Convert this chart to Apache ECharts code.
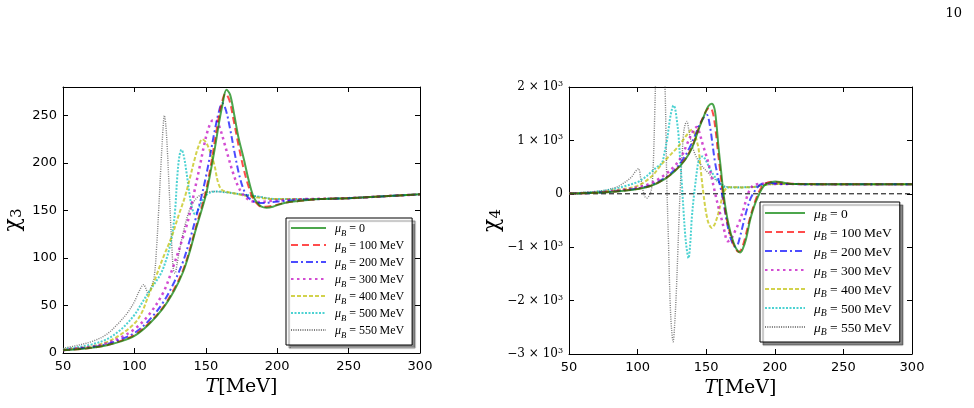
<!DOCTYPE html>
<html>
<head>
<meta charset="utf-8">
<script src="https://cdn.jsdelivr.net/npm/echarts@6/dist/echarts.min.js"></script>
<style>
html, body { margin: 0; padding: 0; background: #fff; }
#chart { width: 974px; height: 408px; }
</style>
</head>
<body>
<div id="chart"></div>
<script>
// legend labels (mu_B values)
var muLabels = ['0', '100\u2009MeV', '200\u2009MeV', '300\u2009MeV', '400\u2009MeV', '500\u2009MeV', '550\u2009MeV'];
var xTicks = [50, 100, 150, 200, 250, 300];

// chi_3 curves, [T (MeV), value]
var chi3_0 = [[50,3],[60,4],[70,5.5],[80,8],[90,12],[100,18],[110,30],[120,47],[128,66],[134,85],[139,108],[143,130],[147,150],[150,166],[153,188],[156.5,217],[159,240],[161.5,260],[164.5,277],[167,272],[170,250],[173,226],[176.5,205],[180,182],[183,166],[186,158],[189,154],[192.5,153],[197,154],[205,158],[215,160],[230,162],[250,163],[275,165],[300,167]];
var chi3_100 = [[50,3],[60,4],[70,5.5],[80,8],[90,12.5],[100,19],[110,31],[120,48],[128,68],[134,87],[139,110],[143,132],[147,153],[150,170],[153,193],[156,220],[158.5,243],[161,262],[163.7,273],[166.5,266],[169.5,245],[173,218],[176.5,194],[180,175],[183,163],[186,157],[189,154],[192,154],[197,155],[205,158],[215,160],[230,162],[250,163],[275,165],[300,167]];
var chi3_200 = [[50,3],[60,4.5],[70,6],[80,9],[90,14],[100,21],[110,34],[120,53],[128,75],[134,96],[139,120],[143,142],[147,165],[150,185],[153,208],[156,232],[159,253],[161.5,263],[164,256],[167,236],[170,212],[173,190],[176,174],[179,165],[183,160],[187,158],[191,158],[197,159],[205,160],[215,161],[230,162],[250,163],[275,165],[300,167]];
var chi3_300 = [[50,3],[60,5],[70,6.5],[80,10],[90,16],[100,25],[110,40],[120,63],[127,90],[133,117],[138,142],[142,170],[146,198],[149,220],[152,237],[155,245],[157,245],[160,236],[163,221],[166,205],[169,190],[172.8,175],[177,165],[182,160],[188,159],[195,160],[205,161],[220,162],[250,163],[275,165],[300,167]];
var chi3_400 = [[50,3.5],[60,5],[70,7],[80,11],[90,19],[100,31],[105,42],[109,57],[114.5,78],[120,100],[126,122],[131,145],[135.5,165],[139,185],[142,203],[145,218],[147.5,225],[150,222],[153,212],[156,198],[158.5,180],[161,172],[164,170],[170,168],[180,165],[190,163],[200,162],[220,162],[250,163],[275,165],[300,167]];
var chi3_500 = [[50,4],[60,6],[70,9],[80,14],[90,24],[100,40],[105,52],[110,64],[115,75],[119,85],[122,97],[124.5,110],[126.5,125],[128.5,150],[130,185],[131.5,207],[133,214],[134.5,208],[136.5,190],[138.5,168],[140.5,152],[142.5,146],[145,152],[148,162],[152,168],[157,170],[165,169],[175,167],[185,165],[200,162],[220,162],[250,163],[275,165],[300,167]];
var chi3_550 = [[50,5],[60,8],[70,12],[80,19],[88,30],[95,42],[100,54],[103,64],[106.5,72],[108,68],[109.5,63],[112,70],[114,82],[115.5,110],[117,150],[118.5,195],[120,235],[121,250],[122,240],[123.2,210],[124.3,175],[125.3,140],[126.3,110],[127.3,88],[128.5,84],[130,95],[132.5,115],[135,132],[138,148],[141,158],[145,165],[150,169],[155,170],[165,169],[175,167],[185,165],[200,162],[220,162],[250,163],[275,165],[300,167]];

// chi_4 curves, [T (MeV), value]
var chi4_0 = [[50,5],[60,10],[70,20],[80,35],[90,58],[100,90],[110,150],[120,280],[127,420],[134.7,637],[140,880],[144.4,1200],[149.2,1510],[151.5,1640],[154,1688],[156,1600],[157.5,1300],[158.9,890],[160.8,440],[162.5,30],[164.3,-300],[166.2,-560],[168.5,-800],[171.1,-990],[173,-1070],[174.7,-1100],[176.5,-1040],[179,-850],[182,-490],[185,-230],[188,-40],[190.5,90],[193,170],[197,215],[200.5,230],[205,215],[211,190],[220,182],[250,180],[300,180]];
var chi4_100 = [[50,5],[60,10],[70,20],[80,36],[90,60],[100,92],[110,155],[120,285],[127,430],[134.7,650],[140,900],[144.4,1220],[148.5,1480],[151,1590],[153,1610],[155,1500],[156.8,1200],[158.5,800],[160.3,400],[162,30],[164,-330],[166,-600],[168.5,-840],[171,-1010],[173.5,-1085],[175.5,-1040],[178,-860],[181,-540],[184,-270],[187,-50],[190,110],[193,190],[198,225],[204,210],[212,188],[220,182],[250,180],[300,180]];
var chi4_200 = [[50,5],[60,11],[70,22],[80,40],[90,65],[100,100],[110,165],[120,300],[127,450],[133,640],[138,870],[142,1100],[146,1340],[150.4,1480],[152.5,1300],[154.5,950],[156.5,580],[159,270],[161.4,10],[163.5,-300],[166.2,-675],[168.5,-880],[171,-990],[172.8,-960],[174.7,-800],[177,-560],[179.6,-300],[182,-110],[184.4,10],[187,110],[189.3,170],[193,200],[198,200],[205,185],[220,181],[250,180],[300,180]];
var chi4_300 = [[50,6],[60,13],[70,25],[80,45],[90,75],[100,120],[110,200],[120,360],[127,520],[132,700],[136,930],[139,1100],[141.5,1220],[143.2,1250],[145,1150],[147.5,920],[149.5,760],[151.6,575],[154,300],[156.5,12],[159,-260],[161.4,-490],[163.5,-720],[165.5,-890],[168,-850],[171,-700],[174.5,-500],[177.5,-260],[180.5,0],[183.5,140],[187,180],[192,190],[200,185],[220,181],[250,180],[300,180]];
var chi4_400 = [[50,8],[60,16],[70,30],[80,55],[90,90],[100,150],[110,320],[116.5,520],[122,680],[128.6,856],[133,1000],[136,1106],[139.5,1200],[141.5,1130],[143,1000],[144.4,850],[145.6,560],[146.8,262],[148,0],[149.2,-238],[150.5,-430],[152,-570],[154.1,-640],[156,-580],[157.5,-480],[158.9,-362],[160.7,-170],[162.5,12],[164.5,100],[166.5,125],[175,120],[183,125],[188,140],[193,170],[200,182],[220,181],[250,180],[300,180]];
var chi4_500 = [[50,10],[60,20],[70,40],[80,75],[89.8,137],[100,220],[105,300],[110.4,419],[114,500],[117.7,575],[119.5,760],[121.3,981],[122.5,1200],[123.7,1419],[125,1580],[126.2,1655],[127.3,1600],[128.5,1400],[129.8,1106],[131,650],[132.3,169],[133.5,-330],[134.7,-769],[135.9,-1050],[137.1,-1206],[138.3,-950],[139.5,-456],[140.8,-100],[142,169],[143.2,420],[144.4,606],[146,690],[147.4,700],[149,660],[151,560],[153,450],[155.3,356],[158,260],[160,200],[162.5,137],[166,120],[175,120],[183,125],[188,140],[193,170],[200,182],[220,181],[250,180],[300,180]];
var chi4_550 = [[50,12],[60,25],[70,45],[77.7,75],[85,130],[89.8,200],[95,300],[98.5,420],[100.7,470],[102.2,300],[104,60],[105.5,-60],[106.8,-80],[108.3,-40],[109.5,30],[110.5,150],[111.5,600],[112.5,1500],[113.5,2500],[115,3400],[116.5,3700],[118,3400],[119,2700],[120,2000],[120.7,1100],[121.3,200],[122.5,-900],[123.7,-2019],[124.8,-2550],[125.9,-2770],[127,-2450],[128.2,-1850],[129.3,-1100],[130.3,-400],[131.2,169],[132.3,650],[133.4,1106],[134.7,1300],[135.9,1356],[137.3,1200],[139,980],[141,800],[143.2,669],[146.5,530],[150.5,419],[155,300],[160.2,200],[164,140],[170,125],[180,125],[186,130],[190,150],[195,170],[200,180],[220,181],[250,180],[300,180]];
var zeroLine = [[50,0],[300,0]];

var chi3Data = [chi3_0, chi3_100, chi3_200, chi3_300, chi3_400, chi3_500, chi3_550];
var chi4Data = [chi4_0, chi4_100, chi4_200, chi4_300, chi4_400, chi4_500, chi4_550];

var lineStyles = [
    {color: '#008000', type: 'solid', width: 2},
    {color: '#ff0000', type: [7, 4], width: 2},
    {color: '#0000ff', type: [7, 3, 2, 3], width: 2},
    {color: '#bf00bf', type: [2.5, 3.5], width: 2.5},
    {color: '#bfbf00', type: [4, 2], width: 2},
    {color: '#00bfbf', type: [2, 1.5], width: 2},
    {color: '#444444', type: [1, 1.3], width: 1.4}
];

var seriesNames = muLabels.map(function (m) { return 'mu_B = ' + m; });

var chart = echarts.init(document.getElementById('chart'));

var series = [];
function addSeries(list, xi, yi) {
    list.forEach(function (d, i) {
        var ls = lineStyles[i];
        series.push({
            name: seriesNames[i],
            type: 'line',
            xAxisIndex: xi,
            yAxisIndex: yi,
            data: d,
            symbol: 'none',
            smooth: 0.35,
            clip: true,
            silent: true,
            z: 10 - i,
            color: ls.color,
            lineStyle: {color: ls.color, type: ls.type, width: ls.width, opacity: 0.7}
        });
    });
}
addSeries(chi3Data, 0, 0);
addSeries(chi4Data, 2, 2);
series.push({
    type: 'line', xAxisIndex: 2, yAxisIndex: 2, data: zeroLine,
    symbol: 'none', silent: true, z: 1,
    lineStyle: {color: '#000', type: [5, 3], width: 1}
});

var tickFont = {fontFamily: 'DejaVu Sans', fontSize: 13, color: '#000'};
function xAx(grid, pos) {
    return {
        type: 'value', gridIndex: grid, position: pos, min: 50, max: 300, interval: 50,
        axisLine: {show: true, onZero: false, lineStyle: {color: '#000', width: 1}},
        axisTick: {show: true, inside: true, length: 5, lineStyle: {color: '#000'}},
        axisLabel: pos === 'bottom' ? Object.assign({margin: 7}, tickFont) : {show: false},
        splitLine: {show: false},
        name: pos === 'bottom' ? '{i|T}[MeV]' : '',
        nameLocation: 'middle', nameGap: 22,
        nameTextStyle: {
            fontFamily: 'DejaVu Serif', fontSize: 19, color: '#000',
            rich: {i: {fontFamily: 'DejaVu Serif', fontStyle: 'italic', fontSize: 19, color: '#000'}}
        }
    };
}
function sci(v) {
    if (v === 0) return '0';
    var n = v / 1000;
    var s = (n < 0 ? '\u2212' + (-n) : '' + n);
    return '{n|' + s + ' \u00d7 10}{p|3}';
}
function yAx(grid, pos, min, max, interval, gap, fmt, sub) {
    return {
        type: 'value', gridIndex: grid, position: pos, min: min, max: max, interval: interval,
        axisLine: {show: true, onZero: false, lineStyle: {color: '#000', width: 1}},
        axisTick: {show: true, inside: true, length: 5, lineStyle: {color: '#000'}},
        axisLabel: pos === 'left' ? Object.assign({
            margin: 6, showMaxLabel: grid === 1, formatter: fmt,
            rich: {
                n: {fontFamily: 'DejaVu Serif', fontSize: 12, color: '#000'},
                p: {fontFamily: 'DejaVu Serif', fontSize: 8, color: '#000', verticalAlign: 'top', padding: [0, 0, 6, 0]}
            }
        }, grid === 1 ? {fontFamily: 'DejaVu Serif', fontSize: 12, color: '#000'} : tickFont) : {show: false},
        splitLine: {show: false},
        name: pos === 'left' ? '{c|\u03c7}{s|' + sub + '}' : '',
        nameLocation: 'middle', nameGap: gap, nameRotate: 90,
        nameTextStyle: {
            rich: {
                c: {fontFamily: 'DejaVu Serif', fontSize: 22, color: '#000'},
                s: {fontFamily: 'DejaVu Serif', fontSize: 15, color: '#000', verticalAlign: 'bottom', padding: [8, 0, 0, 0]}
            }
        }
    };
}

function legendFmt(name) {
    var i = seriesNames.indexOf(name);
    return '{m|\u03bc}{s|B}{t| = ' + muLabels[i] + '}';
}
function legend(left, top, fs, itemH, gap, iw) {
    return {
        data: seriesNames, orient: 'vertical', left: left, top: top,
        selectedMode: false,
        itemWidth: iw, itemHeight: itemH, itemGap: gap,
        padding: [5, 8, 5, 4],
        backgroundColor: '#fff', borderColor: '#000', borderWidth: 1, borderRadius: 0,
        shadowColor: 'rgba(0,0,0,0.45)', shadowBlur: 1, shadowOffsetX: 3, shadowOffsetY: 3,
        itemStyle: {opacity: 0, borderWidth: 0},
        formatter: legendFmt,
        textStyle: {
            padding: [0, 0, 0, 4],
            rich: {
                m: {fontFamily: 'Liberation Serif', fontStyle: 'italic', fontSize: fs, lineHeight: itemH, verticalAlign: 'top', color: '#000'},
                s: {fontFamily: 'Liberation Serif', fontStyle: 'italic', fontSize: fs * 0.72, lineHeight: itemH, verticalAlign: 'top', padding: [6, 0, 0, 0], color: '#000'},
                t: {fontFamily: 'Liberation Serif', fontSize: fs, lineHeight: itemH, verticalAlign: 'top', color: '#000'}
            }
        }
    };
}

chart.setOption({
    animation: false,
    backgroundColor: '#fff',
    grid: [
        {left: 63, top: 87, width: 357, height: 266},
        {left: 569, top: 87, width: 343, height: 267}
    ],
    xAxis: [xAx(0, 'bottom'), xAx(0, 'top'), xAx(1, 'bottom'), xAx(1, 'top')],
    yAxis: [
        yAx(0, 'left', 0, 280, 50, 38, function (v) { return v % 50 === 0 ? String(v) : ''; }, '3'),
        yAx(0, 'right', 0, 280, 50, 0, null, ''),
        yAx(1, 'left', -3000, 2000, 1000, 64, sci, '4'),
        yAx(1, 'right', -3000, 2000, 1000, 0, null, '')
    ],
    legend: [legend(286, 218, 12, 10, 2, 35), legend(760, 202, 13.5, 12, 3, 40)],
    graphic: [{
        type: 'text', right: 12, top: 7,
        style: {text: '10', font: '13px "DejaVu Serif"', fill: '#000'}
    }],
    series: series
});
</script>
</body>
</html>
